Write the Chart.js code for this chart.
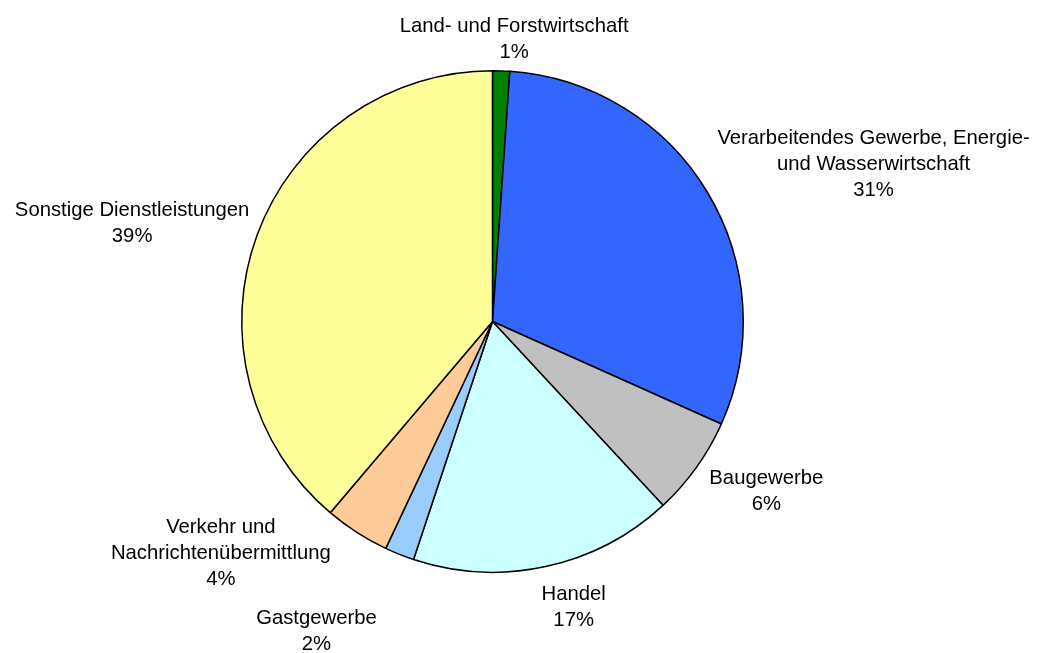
<!DOCTYPE html>
<html lang="de">

<head>
    <meta charset="UTF-8">
    <title>Anteile nach Wirtschaftsbereichen</title>
    <style>
        body { margin: 0; background: #fff; }
        #wrap { width: 1041px; height: 653px; position: relative; }
    </style>
</head>

<body>
    <div id="wrap">
        <canvas id="myCanvas"></canvas>
    </div>

    <script src="https://cdn.jsdelivr.net/npm/chart.js@4/dist/chart.umd.min.js"></script>
    <script>
        // slice names (line breaks as in the picture)
        const sectors = [
            ['Land- und Forstwirtschaft'],
            ['Verarbeitendes Gewerbe, Energie-', 'und Wasserwirtschaft'],
            ['Baugewerbe'],
            ['Handel'],
            ['Gastgewerbe'],
            ['Verkehr und', 'Nachrichtenübermittlung'],
            ['Sonstige Dienstleistungen']
        ];
        // share in percent
        const shares = [1.1, 30.6, 6.4, 17.0, 1.9, 4.2, 38.8];
        const colors = ['#008000', '#3366FF', '#C0C0C0', '#CCFFFF', '#99CCFF', '#FFCC99', '#FFFF99'];

        // where each label sits, relative to the middle of its slice's rim
        const labelShift = [[13, -39], [166, -49], [70, 16], [28, 33], [-83, 70], [-136, 1], [-125, -19]];

        const pieLabels = {
            id: 'pieLabels',
            afterDraw(chart) {
                const ctx = chart.ctx;
                const meta = chart.getDatasetMeta(0);
                const total = shares.reduce((a, b) => a + b, 0);
                ctx.save();
                ctx.font = '20.3px "Liberation Sans", Arial, sans-serif';
                ctx.fillStyle = '#000';
                ctx.textAlign = 'center';
                ctx.textBaseline = 'alphabetic';
                meta.data.forEach((arc, i) => {
                    const mid = (arc.startAngle + arc.endAngle) / 2;
                    const px = arc.x + Math.cos(mid) * arc.outerRadius + labelShift[i][0];
                    let py = arc.y + Math.sin(mid) * arc.outerRadius + labelShift[i][1];
                    const lines = sectors[i].concat([Math.round(shares[i] / total * 100) + '%']);
                    lines.forEach(line => {
                        ctx.fillText(line, px, py);
                        py += 26;
                    });
                });
                ctx.restore();
            }
        };

        let ctx = document.getElementById('myCanvas').getContext('2d');
        var chart = new Chart(ctx, {
            type: 'pie',
            data: {
                labels: sectors.map(s => s.join(' ')),
                datasets: [{
                    data: shares,
                    backgroundColor: colors,
                    borderColor: '#000',
                    borderWidth: 1.5
                }]
            },
            options: {
                responsive: true,
                maintainAspectRatio: false,
                animation: false,
                layout: { padding: { left: 241, right: 297, top: 70, bottom: 80 } },
                plugins: {
                    legend: { display: false },
                    tooltip: { enabled: false }
                }
            },
            plugins: [pieLabels]
        });
    </script>
</body>

</html>
